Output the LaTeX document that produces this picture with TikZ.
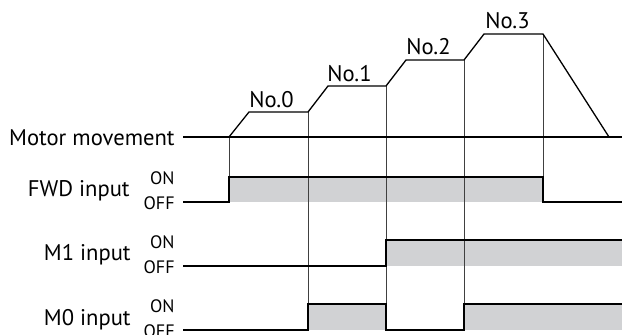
\documentclass[tikz,border=0pt]{standalone}
\usepackage{fontspec}
\setmainfont{PT Sans}
\usepackage{tikz}
\usetikzlibrary{positioning}
\definecolor{ongray}{RGB}{209,210,212}

\begin{document}
\begin{tikzpicture}[x=0.5pt,y=-0.5pt,
    sig/.style={line width=0.65pt, line join=miter},
    guide/.style={line width=0.45pt, black!75},
    lbl/.style={font=\fontsize{11.3}{13}\selectfont, inner sep=0pt, anchor=base east},
    lvl/.style={font=\fontsize{9}{10}\selectfont, inner sep=0pt, anchor=base east},
    spd/.style={font=\fontsize{11.3}{13}\selectfont, inner sep=0pt, anchor=base west}]
  \useasboundingbox (0,0) rectangle (622,334);
  % ON areas
  \fill[ongray] (229,177) rectangle (543,202);
  \fill[ongray] (386,240) rectangle (622,266);
  \fill[ongray] (308,304) rectangle (386,330);
  \fill[ongray] (464,304) rectangle (622,330);
  % guide lines
  \draw[guide] (229,137) -- (229,177);
  \draw[guide] (308,112) -- (308,330);
  \draw[guide] (386,86) -- (386,330);
  \draw[guide] (464,60) -- (464,330);
  \draw[guide] (543,34) -- (543,202);
  % motor movement
  \draw[sig] (183,137) -- (622,137);
  \draw[sig] (229,137) -- (249,112) -- (308,112) -- (328,86) -- (386,86)
    -- (406,60) -- (464,60) -- (484,34) -- (543,34) -- (609,137);
  % inputs
  \draw[sig] (183,202) -- (229,202) -- (229,177) -- (543,177) -- (543,202) -- (622,202);
  \draw[sig] (183,266) -- (386,266) -- (386,240) -- (622,240);
  \draw[sig] (183,330) -- (308,330) -- (308,304) -- (386,304) -- (386,330)
    -- (464,330) -- (464,304) -- (622,304);
  % labels
  \node[lbl] (motor) at (175,145) {Motor movement};
  \node[lbl] (fwd) at (130,196) {FWD input};
  \node[lvl] (fwdon) at (175,184) {ON};
  \node[lvl] (fwdoff) at (175,209) {OFF};
  \node[lbl] (mone) at (131,260) {M1 input};
  \node[lvl] (moneon) at (175,248) {ON};
  \node[lvl] (moneoff) at (175,273) {OFF};
  \node[lbl] (mzero) at (131,325) {M0 input};
  \node[lvl] (mzeroon) at (175,312) {ON};
  \node[lvl] (mzerooff) at (175,337) {OFF};
  % speed numbers
  \node[spd] (nozero) at (249,107) {No.0};
  \node[spd] (noone) at (327,81) {No.1};
  \node[spd] (notwo) at (406,54) {No.2};
  \node[spd] (nothree) at (485,28) {No.3};
\end{tikzpicture}
\end{document}
